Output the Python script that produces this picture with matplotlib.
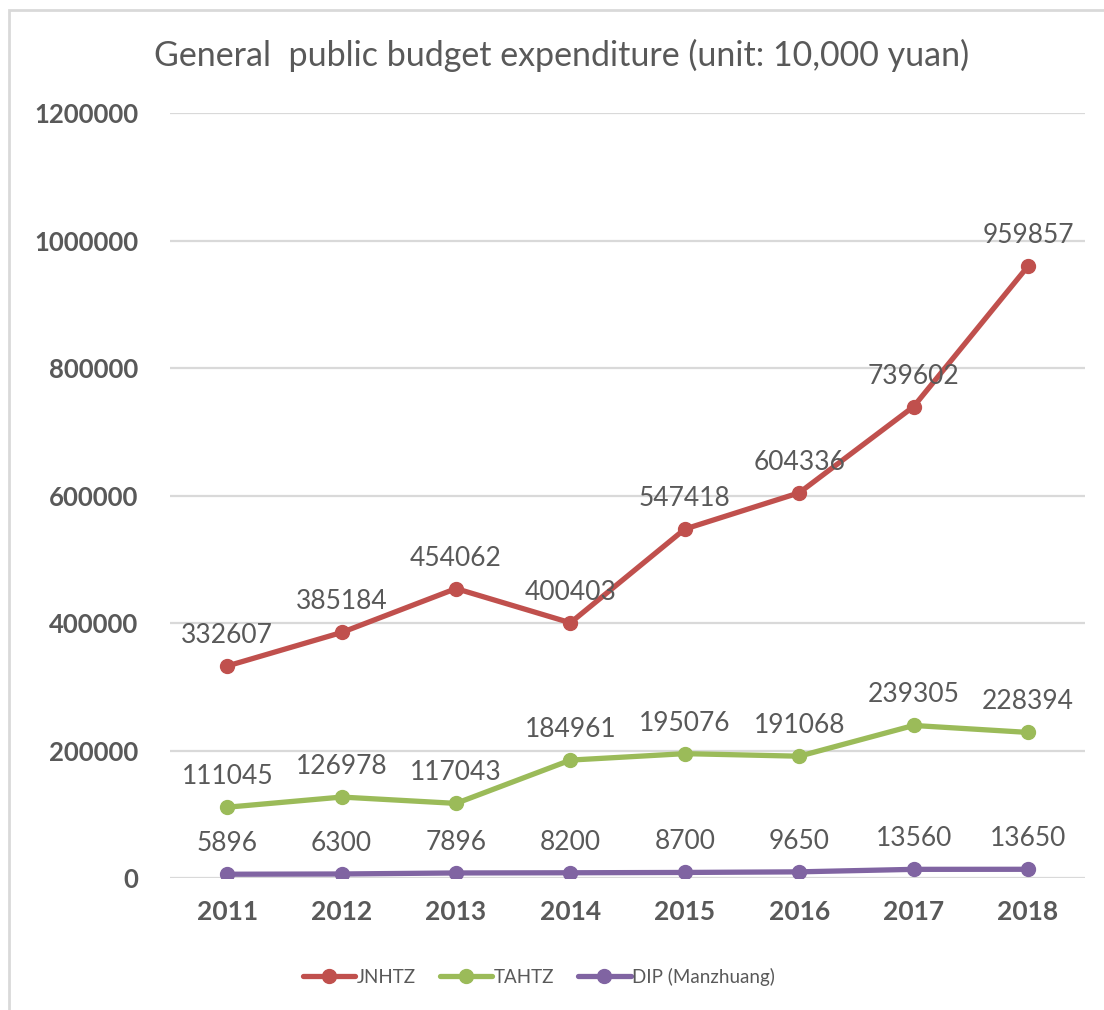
import matplotlib.pyplot as plt
from matplotlib.patches import Rectangle

# Datos de gasto presupuestario (unidad: 10 000 yuan)
years = ['2011', '2012', '2013', '2014', '2015', '2016', '2017', '2018']
jnhtz = [332607, 385184, 454062, 400403, 547418, 604336, 739602, 959857]
tahtz = [111045, 126978, 117043, 184961, 195076, 191068, 239305, 228394]
dip = [5896, 6300, 7896, 8200, 8700, 9650, 13560, 13650]
y_ticks = [0, 200000, 400000, 600000, 800000, 1000000, 1200000]

series = [
    ('JNHTZ', jnhtz, '#C0504D'),
    ('TAHTZ', tahtz, '#9BBB59'),
    ('DIP (Manzhuang)', dip, '#8064A2'),
]

plt.rcParams['font.family'] = ['Lato', 'DejaVu Sans']
text_gray = '#595959'

fig = plt.figure(figsize=(11.04, 10.10), dpi=100)
ax = fig.add_axes([0.154, 0.1307, 0.829, 0.7573])

# borde del área del gráfico
fig.patches.append(Rectangle((9 / 1104, -0.1), 1.2, 1 - 10 / 1010 + 0.1,
                             transform=fig.transFigure, fill=False,
                             edgecolor='#D9D9D9', linewidth=2))

x = list(range(len(years)))
for name, vals, color in series:
    ax.plot(x, vals, color=color, linewidth=3.8, marker='o', markersize=10,
            label=name, solid_capstyle='round', zorder=3)
    for xi, v in zip(x, vals):
        ax.annotate(f'{v}', (xi, v), xytext=(0, 22), textcoords='offset points',
                    ha='center', va='center', fontsize=19, color=text_gray)

ax.set_xlim(-0.5, len(years) - 0.5)
ax.set_ylim(0, 1200000)
ax.set_yticks(y_ticks)
ax.set_yticklabels([str(t) for t in y_ticks])
ax.set_xticks(x)
ax.set_xticklabels(years)
ax.tick_params(axis='both', length=0, labelcolor=text_gray)
ax.tick_params(axis='y', pad=23, labelsize=18.5)
ax.tick_params(axis='x', pad=16, labelsize=19)
for lab in ax.get_xticklabels() + ax.get_yticklabels():
    lab.set_fontweight('bold')

ax.grid(axis='y', color='#D9D9D9', linewidth=1.6)
ax.set_axisbelow(True)
for s in ax.spines.values():
    s.set_visible(False)

fig.text(0.509, 0.945, 'General  public budget expenditure (unit: 10,000 yuan)',
         ha='center', va='center', fontsize=24.5, color=text_gray)

leg = fig.legend(loc='center', bbox_to_anchor=(0.488, 0.033), ncol=3,
                 frameon=False, fontsize=13.5, handlelength=2.8,
                 handletextpad=0.05, columnspacing=1.3)
for t in leg.get_texts():
    t.set_color(text_gray)

fig.savefig('out.png', dpi=100)
plt.close()
